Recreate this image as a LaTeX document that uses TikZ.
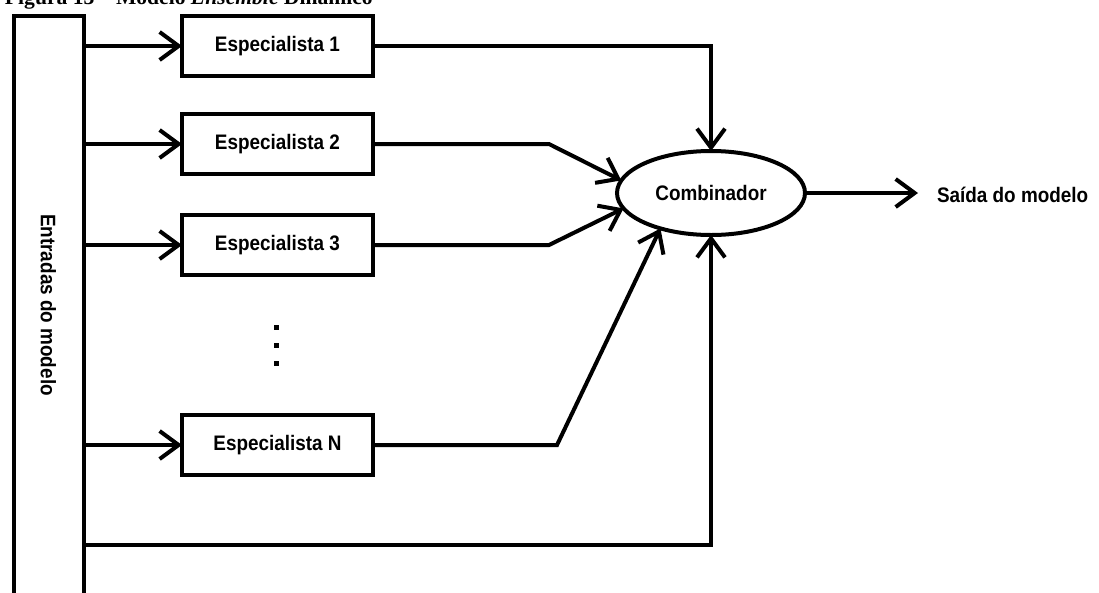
\documentclass[tikz,border=0pt]{standalone}
\usepackage{fontspec}
\setmainfont{Liberation Serif}
\newfontfamily\condsans[FakeStretch=0.9]{Liberation Sans}
\usetikzlibrary{arrows.meta,shapes.geometric}

\begin{document}
\begin{tikzpicture}[x=1pt,y=-1pt,
  line width=4pt, line join=miter,
  every node/.style={outer sep=0pt, inner sep=0pt},
  lbl/.style={font=\condsans\bfseries\fontsize{21}{25}\selectfont},
  arr/.style={-{Straight Barb[length=19pt,width=28pt,line width=4pt]}},
  stepbox/.style={draw, rectangle, minimum width=191pt, minimum height=60pt, lbl},
  combo/.style={draw, ellipse, minimum width=188pt, minimum height=84pt, lbl},
  dotmark/.style={fill=black}
]
\useasboundingbox (0,0) rectangle (1099,592);

% caption line, cut by the top edge of the page
\node[anchor=base west, font=\bfseries\fontsize{21.6}{26}\selectfont] (title) at (5,4.5)
  {Figura 13 -- Modelo \textit{Ensemble} Dinâmico};

% tall input bar, open at the bottom
\node[draw, anchor=north west, minimum width=70pt, minimum height=640pt] (inputs) at (13.5,16) {};
\node[lbl, rotate=-90] (inputslabel) at (48.5,305) {Entradas do modelo};

% specialists
\node[stepbox] (e1) at (277.5,46)  {Especialista 1};
\node[stepbox] (e2) at (277.5,144) {Especialista 2};
\node[stepbox] (e3) at (277.5,245) {Especialista 3};
\node[stepbox] (eN) at (277.5,445) {Especialista N};

% vertical ellipsis between the specialists
\fill[dotmark] (273.5,324.5) rectangle ++(5,5);
\fill[dotmark] (273.5,342.5) rectangle ++(5,5);
\fill[dotmark] (273.5,360.5) rectangle ++(5,5);

% combiner and output
\node[combo] (comb) at (711,193) {Combinador};
\coordinate (outtip) at (918,193);
\node[lbl, anchor=base west] (outlabel) at (937,202) {Saída do modelo};

% inputs to specialists
\foreach \s in {e1,e2,e3,eN}
  \draw[arr] (inputs.east |- \s.west) -- (\s.west);

% specialists to combiner
\coordinate (k2) at (549,144);
\coordinate (k3) at (549,245);
\coordinate (kN) at (557,445);
\draw[arr] (e1.east) -| (comb.north);
\draw[arr] (e2.east) -- (k2) -- (comb.172);
\draw[arr] (e3.east) -- (k3) -- (comb.190);
\draw[arr] (eN.east) -- (kN) -- (comb.215);

% direct path from the inputs to the combiner
\coordinate (fb) at (711,545);
\draw[arr] (inputs.east |- fb) -- (fb) -- (comb.south);

% model output
\draw[arr] (comb.east) -- (outtip);
\end{tikzpicture}
\end{document}
